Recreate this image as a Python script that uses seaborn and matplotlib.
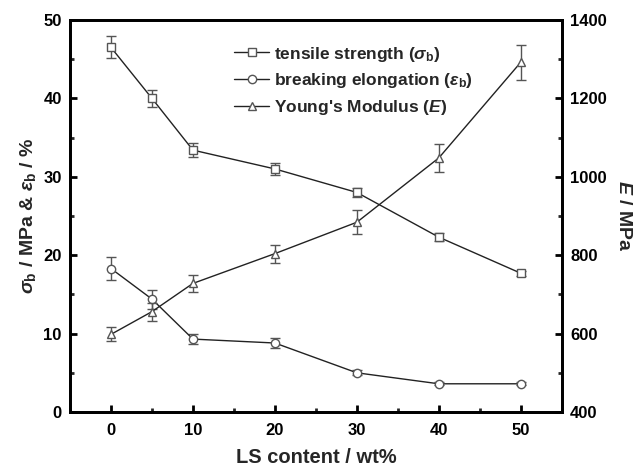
import matplotlib
matplotlib.use("Agg")
import matplotlib.pyplot as plt
import seaborn as sns
import pandas as pd
from matplotlib.ticker import MultipleLocator
from matplotlib.lines import Line2D

ls_content = [0, 5, 10, 20, 30, 40, 50]
tensile = [46.5, 40.0, 33.4, 31.0, 28.0, 22.3, 17.7]
tensile_err = [1.4, 1.1, 0.9, 0.8, 0.6, 0.5, 0.3]
elongation = [18.3, 14.4, 9.3, 8.8, 5.0, 3.6, 3.6]
elongation_err = [1.5, 1.2, 0.6, 0.6, 0.3, 0.2, 0.2]
modulus = [598, 656, 728, 804, 884, 1048, 1292]
modulus_err = [18, 23, 22, 23, 30, 35, 45]

sns.set_theme(style="ticks")
plt.rcParams['font.family'] = ['Liberation Sans', 'DejaVu Sans']
plt.rcParams['mathtext.fontset'] = 'custom'
plt.rcParams['mathtext.it'] = 'Liberation Sans:italic:bold'
plt.rcParams['mathtext.rm'] = 'Liberation Sans:bold'
plt.rcParams['mathtext.bf'] = 'Liberation Sans:bold'

df = pd.DataFrame({"x": ls_content, "t": tensile, "e": elongation, "m": modulus})

fig = plt.figure(figsize=(6.42, 4.69), dpi=100)
ax = fig.add_axes([0.109, 0.1215, 0.766, 0.836])
ax2 = ax.twinx()

mk = dict(markerfacecolor='white', markeredgecolor='#555555', markersize=6, markeredgewidth=1.0)
ecol = '#555555'

sns.lineplot(data=df, x="x", y="t", ax=ax, color='#222222', lw=1.0, marker='s', zorder=3, **mk)
ax.errorbar(ls_content, tensile, yerr=tensile_err, fmt='none', ecolor=ecol, elinewidth=1.0, capsize=3.5, capthick=1.0, zorder=2)
sns.lineplot(data=df, x="x", y="e", ax=ax, color='#222222', lw=1.0, marker='o', zorder=3, **mk)
ax.errorbar(ls_content, elongation, yerr=elongation_err, fmt='none', ecolor=ecol, elinewidth=1.0, capsize=3.5, capthick=1.0, zorder=2)
sns.lineplot(data=df, x="x", y="m", ax=ax2, color='#222222', lw=1.0, marker='^', zorder=3, **mk)
ax2.errorbar(ls_content, modulus, yerr=modulus_err, fmt='none', ecolor=ecol, elinewidth=1.0, capsize=3.5, capthick=1.0, zorder=2)

ax.set_xlim(-5, 55)
ax.set_ylim(0, 50)
ax2.set_ylim(400, 1400)
ax.xaxis.set_major_locator(MultipleLocator(10))
ax.xaxis.set_minor_locator(MultipleLocator(5))
ax.yaxis.set_major_locator(MultipleLocator(10))
ax.yaxis.set_minor_locator(MultipleLocator(5))
ax2.yaxis.set_major_locator(MultipleLocator(200))
ax2.yaxis.set_minor_locator(MultipleLocator(100))

for a in (ax, ax2):
    for s in a.spines.values():
        s.set_linewidth(2.0)
        s.set_color('black')
    a.tick_params(which='major', direction='in', length=5, width=2.0, labelsize=12, colors='black')
    a.tick_params(which='minor', direction='in', length=3, width=2.0)
    for lab in a.get_xticklabels() + a.get_yticklabels():
        lab.set_fontweight('bold')
ax.tick_params(axis='both', which='both', right=False, top=False)
ax.tick_params(axis='x', pad=8)
ax.tick_params(axis='y', pad=6)
ax2.tick_params(axis='y', pad=6)

ax.set_xlabel("LS content / wt%", fontsize=14.5, fontweight='bold', labelpad=7)
ax.set_ylabel(r"$\it{\sigma}_{\rm b}$ / MPa & $\it{\varepsilon}_{\rm b}$ / %", fontsize=14, fontweight='bold', labelpad=4)
ax2.set_ylabel(r"$\it{E}$ / MPa", fontsize=14, fontweight='bold', rotation=270, labelpad=18)

handles = [
    Line2D([], [], color='#222222', lw=1.0, marker='s', **mk),
    Line2D([], [], color='#222222', lw=1.0, marker='o', **mk),
    Line2D([], [], color='#222222', lw=1.0, marker='^', **mk),
]
labels = [r"tensile strength ($\it{\sigma}_{\rm b}$)",
          r"breaking elongation ($\it{\varepsilon}_{\rm b}$)",
          r"Young's Modulus ($\it{E}$)"]
leg = ax2.legend(handles, labels, loc='upper left', bbox_to_anchor=(0.32, 0.955), frameon=False,
                 prop={'weight': 'bold', 'size': 12.5}, handlelength=2.0, handletextpad=0.3,
                 labelspacing=0.45, borderaxespad=0)

fig.savefig("out.png", dpi=100)
